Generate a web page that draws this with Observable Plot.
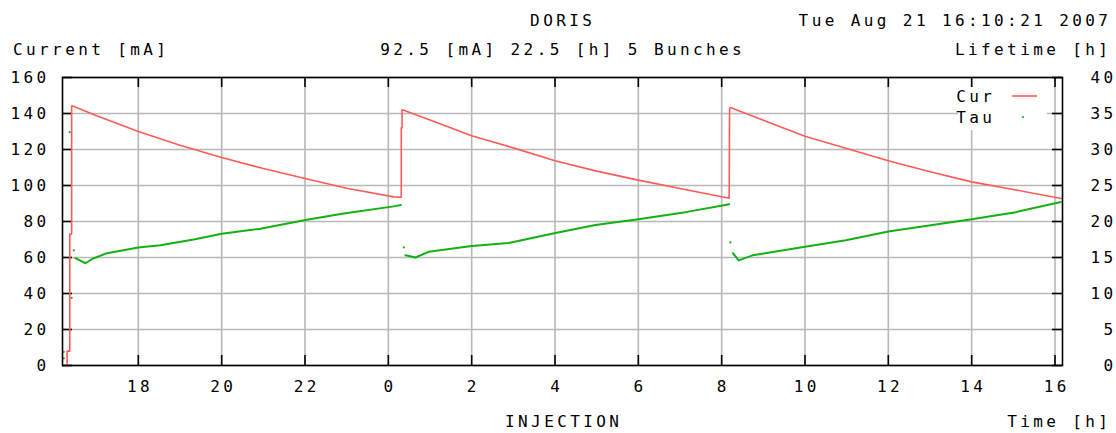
<!DOCTYPE html>
<html><head><meta charset="utf-8">
<script src="https://cdn.jsdelivr.net/npm/d3@7"></script>
<script src="https://cdn.jsdelivr.net/npm/@observablehq/plot@0.6"></script>
<style>
html,body{margin:0;padding:0;background:#fff;}
</style>
</head><body><div id="chart"></div>
<script>
// ---- data (time in hours since midnight of Aug 20; values > 24 are Aug 21) ----
const curTime  = [16.29,16.29,16.355,16.355,16.40,16.40,16.44,17.0,18.0,19.0,20.0,21.0,22.0,23.0,24.13,24.30,24.31,24.31,24.33,24.33,24.37,25.0,26.0,27.0,28.0,29.0,30.0,31.0,32.09,32.18,32.19,32.21,33.0,34.0,35.0,36.0,37.0,38.0,39.0,40.15];
const curValue = [0,8,8,73,73,144.2,144.0,138.7,130.0,122.4,115.6,109.4,103.9,98.5,93.7,93.5,93.5,132,132,142,141.8,136.4,127.6,120.9,113.7,108.0,103.0,98.3,93.3,93.0,142.8,143.3,136.3,127.4,120.5,113.7,107.6,102.0,97.8,92.8];

const tauTime  = [16.49,16.73,16.93,17.25,18.0,18.53,19.33,20.0,20.93,22.01,22.93,24.13,24.30,
                  24.41,24.65,24.97,26.0,26.89,28.01,28.97,30.0,31.13,32.09,32.18,
                  32.27,32.41,32.74,34.0,34.98,36.0,37.06,38.0,39.06,40.14];
const tauValue = [14.9,14.2,14.9,15.6,16.4,16.7,17.5,18.3,19.0,20.2,21.1,22.1,22.3,
                  15.3,15.0,15.8,16.6,17.0,18.4,19.5,20.3,21.3,22.3,22.4,
                  15.6,14.6,15.3,16.5,17.4,18.6,19.5,20.3,21.3,22.7];
const tauCycle = [1,1,1,1,1,1,1,1,1,1,1,1,1, 2,2,2,2,2,2,2,2,2,2,2, 3,3,3,3,3,3,3,3,3,3];

const strayTime  = [16.21,16.21,16.355,16.40,16.45,24.37,32.21];
const strayValue = [1.0,1.9,32.4,9.4,16.0,16.4,17.1];

const hourTicks  = [18,20,22,24,26,28,30,32,34,36,38,40];
const hourLabels = ["18","20","22","0","2","4","6","8","10","12","14","16"];
const currentTicks  = [0,20,40,60,80,100,120,140,160];
const lifetimeTicks = [0,5,10,15,20,25,30,35,40];
const timeDomain = [16.18, 40.18];

const title = "DORIS";
const stamp = "Tue Aug 21 16:10:21 2007";
const subtitle = "92.5 [mA] 22.5 [h] 5 Bunches";
const leftLabel = "Current [mA]";
const rightLabel = "Lifetime [h]";
const bottomCenter = "INJECTION";
const bottomRight = "Time [h]";
const legendNames = ["Cur","Tau"];

// ---- build tables ----
const K = 160 / 40; // lifetime axis (0-40) shares the current axis (0-160)
const cur = curTime.map((t, i) => ({t, v: curValue[i]}));
const tau = tauTime.map((t, i) => ({t, v: tauValue[i], c: tauCycle[i]}));
const stray = strayTime.map((t, i) => ({t, v: strayValue[i]}));

const RED = "#ff5a5a", GREEN = "#14b014", GRID = "#b8b8b8";
const LS = 3.4;

const svg = Plot.plot({
  width: 1116, height: 433,
  marginLeft: 62, marginRight: 54, marginTop: 77, marginBottom: 68,
  style: {fontFamily: "'DejaVu Sans Mono', monospace", fontSize: "16px", letterSpacing: LS + "px", color: "black", background: "white"},
  x: {domain: timeDomain},
  y: {domain: [0, 160]},
  marks: [
    Plot.gridX(hourTicks, {stroke: GRID, strokeOpacity: 1, strokeWidth: 1.6}),
    Plot.gridY(currentTicks, {stroke: GRID, strokeOpacity: 1, strokeWidth: 1.6}),
    // inward ticks
    Plot.ruleX(hourTicks, {x: d => d, insetTop: 278, stroke: "black", strokeWidth: 1.6}),
    Plot.ruleX(hourTicks, {x: d => d, insetBottom: 278, stroke: "black", strokeWidth: 1.6}),
    Plot.ruleY(currentTicks, {y: d => d, insetRight: 990, stroke: "black", strokeWidth: 1.6}),
    Plot.ruleY(lifetimeTicks.map(d => d * K), {y: d => d, insetLeft: 990, stroke: "black", strokeWidth: 1.6}),
    Plot.line(cur, {x: "t", y: "v", stroke: RED, strokeWidth: 1.6}),
    Plot.line(tau, {x: "t", y: d => d.v * K, z: "c", stroke: GREEN, strokeWidth: 2}),
    Plot.dot(stray, {x: "t", y: d => d.v * K, r: 1.1, fill: GREEN, stroke: null}),
    Plot.frame({stroke: "black", strokeWidth: 1.6}),
    Plot.axisY({anchor: "left", ticks: currentTicks, tickSize: 0, tickPadding: 13, label: null}),
    Plot.axisY(lifetimeTicks.map(d => d * K), {anchor: "right", tickFormat: d => String(d / K), textAnchor: "end", tickSize: 0, tickPadding: 54, label: null}),
    Plot.axisX({ticks: hourTicks, tickFormat: d => hourLabels[hourTicks.indexOf(d)], tickSize: 0, tickPadding: 15, dx: LS / 2, label: null})
  ]
});

const s = d3.select(svg);
function txt(x, y, str, anchor) {
  s.append("text").attr("x", x).attr("y", y).attr("text-anchor", anchor)
   .attr("fill", "black").text(str);
}
txt(561 + LS / 2, 26, title, "middle");
txt(1108 + LS, 26, stamp, "end");
txt(13, 55, leftLabel, "start");
txt(561 + LS / 2, 55, subtitle, "middle");
txt(1108 + LS, 55, rightLabel, "end");
txt(562 + LS / 2, 427, bottomCenter, "middle");
txt(1108 + LS, 427, bottomRight, "end");

// legend
s.append("rect").attr("x", 958).attr("y", 87).attr("width", 89).attr("height", 43).attr("fill", "white");
txt(992 + LS, 102, legendNames[0], "end");
txt(992 + LS, 123, legendNames[1], "end");
s.append("line").attr("x1", 1012).attr("x2", 1037).attr("y1", 96).attr("y2", 96).attr("stroke", RED).attr("stroke-width", 1.6);
s.append("circle").attr("cx", 1023).attr("cy", 117).attr("r", 1.1).attr("fill", GREEN);

document.getElementById("chart").appendChild(svg);
</script>
</body></html>
